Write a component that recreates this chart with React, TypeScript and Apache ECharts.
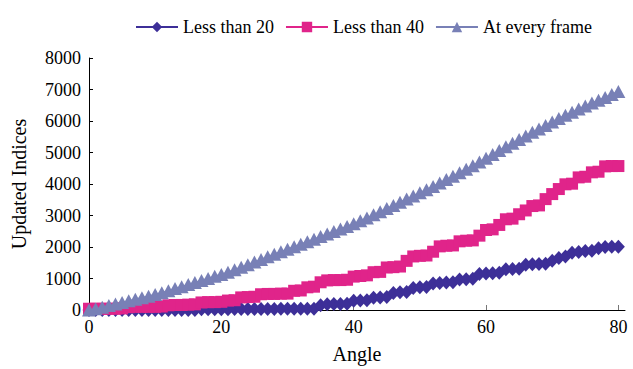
import React, { useEffect, useRef } from "react";
import * as echarts from "echarts";

const angles = [
  0, 1, 2, 3, 4, 5, 6, 7, 8, 9, 10, 11, 12, 13, 14, 15, 16, 17, 18, 19, 20,
  21, 22, 23, 24, 25, 26, 27, 28, 29, 30, 31, 32, 33, 34, 35, 36, 37, 38, 39, 40,
  41, 42, 43, 44, 45, 46, 47, 48, 49, 50, 51, 52, 53, 54, 55, 56, 57, 58, 59, 60,
  61, 62, 63, 64, 65, 66, 67, 68, 69, 70, 71, 72, 73, 74, 75, 76, 77, 78, 79, 80,
];

const lessThan20 = [
  0, 0, 0, 0, 0, 0, 0, 0, 0, 0,
  0, 0, 0, 0, 0, 0, 0, 20, 20, 20,
  20, 20, 30, 30, 30, 30, 30, 30, 30, 40,
  40, 40, 40, 40, 40, 150, 180, 190, 190, 200,
  290, 300, 310, 390, 400, 410, 540, 560, 570, 700,
  720, 730, 840, 860, 870, 880, 970, 980, 990, 1140,
  1160, 1170, 1180, 1290, 1300, 1310, 1440, 1450, 1460, 1470,
  1560, 1650, 1700, 1820, 1840, 1870, 1880, 1960, 2000, 2010,
  2010,
];

const lessThan40 = [
  40, 40, 40, 40, 40, 50, 90, 100, 100, 100,
  100, 110, 150, 160, 160, 170, 180, 240, 250, 250,
  260, 300, 310, 400, 410, 420, 500, 510, 510, 520,
  520, 610, 620, 720, 740, 880, 940, 950, 950, 960,
  1060, 1080, 1100, 1200, 1210, 1350, 1360, 1380, 1560, 1700,
  1720, 1730, 1850, 2020, 2040, 2050, 2180, 2200, 2210, 2360,
  2540, 2560, 2700, 2880, 2900, 3040, 3160, 3300, 3320, 3520,
  3680, 3840, 3990, 4010, 4210, 4230, 4370, 4390, 4560, 4570,
  4570,
];

const everyFrame = [
  0, 40, 90, 140, 190, 240, 290, 340, 390, 440,
  490, 550, 610, 680, 740, 810, 870, 940, 1000, 1070,
  1130, 1200, 1280, 1360, 1440, 1520, 1600, 1690, 1770, 1850,
  1930, 2010, 2090, 2170, 2250, 2330, 2410, 2490, 2570, 2650,
  2740, 2830, 2920, 3020, 3120, 3220, 3320, 3420, 3520, 3620,
  3720, 3820, 3920, 4030, 4140, 4250, 4360, 4470, 4580, 4700,
  4820, 4940, 5060, 5180, 5290, 5410, 5520, 5640, 5750, 5860,
  5970, 6080, 6180, 6280, 6380, 6480, 6570, 6660, 6750, 6840,
  6940,
];

const seriesNames = ["Less than 20", "Less than 40", "At every frame"];
const seriesColors = ["#3d2f98", "#e0248a", "#7880b6"];
const xTicks = [0, 20, 40, 60, 80];

const FONT = "Liberation Serif";

export default function App() {
  const ref = useRef<HTMLDivElement>(null);

  useEffect(() => {
    document.body.style.margin = "0";
    const chart = echarts.init(ref.current!, null, { renderer: "svg" });
    const pair = (vals: number[]) => angles.map((a, i) => [a, vals[i]]);
    const mk = (name: string, color: string, vals: number[], symbol: string, size: any) => ({
      name,
      type: "line",
      data: pair(vals),
      symbol,
      symbolSize: size,
      showAllSymbol: true,
      lineStyle: { color, width: 1.5 },
      itemStyle: { color },
      emphasis: { disabled: true },
    });
    chart.setOption({
      animation: false,
      backgroundColor: "#ffffff",
      textStyle: { fontFamily: FONT },
      legend: {
        top: 13,
        left: 130,
        itemWidth: 42,
        itemHeight: 13,
        itemGap: 11,
        textStyle: { fontFamily: FONT, fontSize: 18, color: "#000" },
        data: seriesNames,
      },
      grid: { left: 89, right: 8, top: 58, bottom: 57 },
      xAxis: {
        type: "value",
        min: 0,
        max: 81,
        interval: 20,
        name: "Angle",
        nameLocation: "middle",
        nameGap: 34,
        nameTextStyle: { fontFamily: FONT, fontSize: 20, color: "#000" },
        axisLine: { show: true, lineStyle: { color: "#000", width: 1 } },
        axisTick: { show: true, inside: true, length: 5, customValues: xTicks, lineStyle: { color: "#777" } },
        axisLabel: { customValues: xTicks, fontFamily: FONT, fontSize: 18, color: "#000", margin: 8 },
        splitLine: { show: false },
      },
      yAxis: {
        type: "value",
        min: 0,
        max: 8000,
        interval: 1000,
        name: "Updated Indices",
        nameLocation: "middle",
        nameGap: 60,
        nameTextStyle: { fontFamily: FONT, fontSize: 20, color: "#000" },
        axisLine: { show: true, lineStyle: { color: "#000", width: 1 } },
        axisTick: { show: true, inside: true, length: 4, lineStyle: { color: "#000" } },
        axisLabel: {
          fontFamily: FONT,
          fontSize: 18,
          color: "#000",
          margin: 8,
          formatter: (v: number) => String(v),
        },
        splitLine: { show: false },
      },
      series: [
        mk(seriesNames[0], seriesColors[0], lessThan20, "diamond", [13, 14]),
        mk(seriesNames[1], seriesColors[1], lessThan40, "rect", 12),
        mk(seriesNames[2], seriesColors[2], everyFrame, "triangle", [14, 13]),
      ],
    });
    return () => chart.dispose();
  }, []);

  return <div ref={ref} style={{ width: 633, height: 369 }} />;
}
